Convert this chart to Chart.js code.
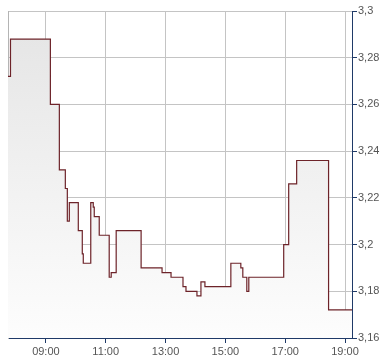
<!DOCTYPE html>
<html>
<head>
<meta charset="utf-8">
<script src="https://cdn.jsdelivr.net/npm/chart.js@4"></script>
<style>
  html, body { margin: 0; padding: 0; background: #fff; }
  #wrap { width: 390px; height: 364px; }
</style>
</head>
<body>
<div id="wrap"><canvas id="priceChart"></canvas></div>
<script>
// intraday price steps (time of change, new price)
const times = ['07:44','07:49','09:09','09:27','09:39','09:43','09:47','10:05','10:13','10:15',
  '10:30','10:35','10:37','10:47','11:07','11:11','11:21','12:11','12:53','13:11',
  '13:35','13:41','14:03','14:11','14:19','15:11','15:31','15:35','15:43','15:47',
  '16:57','17:07','17:23','18:27','19:14'];
const prices = [3.272,3.288,3.26,3.232,3.224,3.21,3.218,3.206,3.196,3.192,
  3.218,3.216,3.212,3.204,3.186,3.188,3.206,3.19,3.188,3.186,
  3.182,3.18,3.178,3.184,3.182,3.192,3.19,3.186,3.18,3.186,
  3.2,3.226,3.236,3.172,3.172];
const xTickLabels = ['09:00','11:00','13:00','15:00','17:00','19:00'];
const yMin = 3.16, yMax = 3.3, yStep = 0.02;

const toMin = s => { const p = s.split(':'); return +p[0] * 60 + +p[1]; };
const fmtTime = m => String(Math.floor(m / 60)).padStart(2, '0') + ':' + String(m % 60).padStart(2, '0');

const navy = '#1f3a68';
const gridGray = '#c4c4c4';
const labelFont = { family: 'Liberation Sans, Arial, sans-serif', size: 11 };

const ctx = document.getElementById('priceChart');

new Chart(ctx, {
  type: 'line',
  data: {
    datasets: [{
      data: times.map((t, i) => ({ x: toMin(t), y: prices[i] })),
      stepped: true,
      borderColor: '#6d2329',
      borderWidth: 1.2,
      pointRadius: 0,
      fill: 'start',
      backgroundColor: (c) => {
        const area = c.chart.chartArea;
        if (!area) return '#eee';
        const g = c.chart.ctx.createLinearGradient(0, area.top, 0, area.bottom);
        g.addColorStop(0, '#e4e4e4');
        g.addColorStop(1, '#fdfdfd');
        return g;
      }
    }]
  },
  options: {
    responsive: true,
    maintainAspectRatio: false,
    animation: false,
    layout: { padding: { left: 8, top: 11, right: 0, bottom: 0 } },
    plugins: { legend: { display: false }, tooltip: { enabled: false } },
    scales: {
      x: {
        type: 'linear',
        min: toMin(times[0]),
        max: toMin(times[times.length - 1]),
        afterBuildTicks: (s) => { s.ticks = xTickLabels.map(l => ({ value: toMin(l) })); },
        afterFit: (s) => { s.height = 26; },
        grid: { color: gridGray, tickColor: navy, tickLength: 5 },
        border: { color: navy, width: 1 },
        ticks: {
          color: '#555',
          font: labelFont,
          padding: 2,
          maxRotation: 0,
          autoSkip: false,
          callback: (v) => fmtTime(v)
        }
      },
      y: {
        position: 'right',
        min: yMin,
        max: yMax,
        afterFit: (s) => { s.width = 38; },
        grid: { color: gridGray, tickColor: navy, tickLength: 5 },
        border: { color: navy, width: 1 },
        ticks: {
          stepSize: yStep,
          color: '#555',
          font: labelFont,
          padding: 1,
          callback: (v) => String(Number(v.toFixed(2))).replace('.', ',')
        }
      },
      yLeft: {
        position: 'left',
        min: yMin,
        max: yMax,
        afterFit: (s) => { s.width = 0; },
        grid: { drawOnChartArea: false, drawTicks: false },
        border: { color: '#b4b4b4', width: 1 },
        ticks: { display: false }
      }
    }
  }
});
</script>
</body>
</html>
